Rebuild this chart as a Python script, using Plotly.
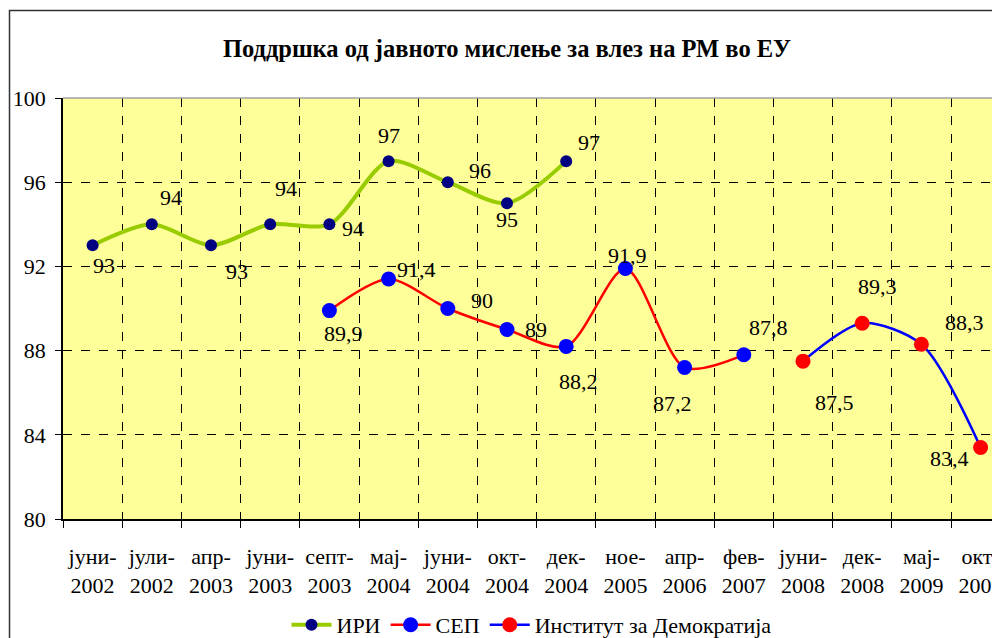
import plotly.graph_objects as go

months = ["јуни", "јули", "апр", "јуни", "септ", "мај", "јуни", "окт", "дек",
          "ное", "апр", "фев", "јуни", "дек", "мај", "окт"]
years = ["2002", "2002", "2003", "2003", "2003", "2004", "2004", "2004", "2004",
         "2005", "2006", "2007", "2008", "2008", "2009", "2009"]
categories = [f"{m}-<br>{y}" for m, y in zip(months, years)]

iri_x = categories[0:9]
iri_vals = [93, 94, 93, 94, 94, 97, 96, 95, 97]

sep_x = categories[4:12]
sep_vals = [89.9, 91.4, 90, 89, 88.2, 91.9, 87.2, 87.8]

inst_x = categories[12:16]
inst_vals = [87.5, 89.3, 88.3, 83.4]

# label offsets in pixels (dx right, dy down)
iri_off = [(11, 20), (19, -27), (26, 26), (16, -36), (24, 4), (0, -26), (32, -12), (0, 16), (23, -19)]
sep_off = [(14, 23), (28, -10), (34, -8), (29, 0), (12, 35), (2, -13), (-12, 36), (25, -27)]
inst_off = [(31, 41), (15, -37), (43, -22), (-31, 11)]

FONT = "Liberation Serif, Times New Roman, serif"

W, H = 992, 630
L, T, B = 55, 90, 119
PW, PH = W - L, H - T - B

fig = go.Figure()
fig.add_trace(go.Scatter(x=iri_x, y=iri_vals, name="ИРИ", mode="lines+markers",
                         line=dict(color="#99CC00", width=4, shape="spline", smoothing=0.8),
                         marker=dict(color="#000080", size=12)))
fig.add_trace(go.Scatter(x=sep_x, y=sep_vals, name="СЕП", mode="lines+markers",
                         line=dict(color="#FF0000", width=2.5, shape="spline", smoothing=0.8),
                         marker=dict(color="#0000FF", size=15)))
fig.add_trace(go.Scatter(x=inst_x, y=inst_vals, name="Институт за Демократија", mode="lines+markers",
                         line=dict(color="#0000FF", width=2.5, shape="spline", smoothing=0.8),
                         marker=dict(color="#FF0000", size=15)))

def fmt(v):
    return f"{v:g}".replace(".", ",")

annotations = []
for xs, vs, offs in [(iri_x, iri_vals, iri_off), (sep_x, sep_vals, sep_off), (inst_x, inst_vals, inst_off)]:
    for x, v, (dx, dy) in zip(xs, vs, offs):
        annotations.append(dict(x=x, y=v, text=fmt(v), showarrow=False,
                                xshift=dx, yshift=-dy,
                                font=dict(family=FONT, size=22, color="black")))

fig.update_layout(
    width=W, height=H,
    margin=dict(l=L, r=0, t=T, b=B, autoexpand=False),
    paper_bgcolor="white",
    plot_bgcolor="#FFFF99",
    font=dict(family=FONT, size=22, color="black"),
    title=dict(text="<b>Поддршка од јавното мислење за влез на РМ во ЕУ</b>",
               x=499 / W, xanchor="center", xref="container",
               y=1 - 40 / H, yanchor="middle", automargin=False,
               font=dict(family=FONT, size=24.5, color="black")),
    showlegend=True,
    legend=dict(orientation="h", x=0.5, xanchor="center", y=(PH - (617 - T)) / PH, yanchor="middle",
                font=dict(family=FONT, size=22), itemwidth=40, bgcolor="rgba(0,0,0,0)",
                tracegroupgap=0),
    annotations=annotations,
)

fig.update_xaxes(type="category", categoryorder="array", categoryarray=categories,
                 range=[-0.5, -0.5 + PW / 59.2], tickson="boundaries", automargin=False,
                 showgrid=True, gridcolor="black", griddash="dash", gridwidth=1,
                 ticks="outside", ticklen=7, tickcolor="black", ticklabelstandoff=17,
                 showline=True, linecolor="black", linewidth=1.5,
                 tickfont=dict(family=FONT, size=22), zeroline=False)
fig.update_yaxes(range=[80, 100], tickvals=[80, 84, 88, 92, 96, 100], automargin=False,
                 showgrid=True, gridcolor="black", griddash="dash", gridwidth=1,
                 ticks="outside", ticklen=6, tickcolor="black", ticklabelstandoff=5,
                 showline=True, linecolor="black", linewidth=1.5,
                 tickfont=dict(family=FONT, size=22), zeroline=False)

# top border of plot area (gray) and outer chart frame
fig.add_shape(type="line", xref="paper", yref="paper", x0=0, x1=1, y0=1, y1=1,
              line=dict(color="#A0A0A0", width=1.5))
fig.add_shape(type="rect", xref="paper", yref="paper",
              x0=(1.5 - L) / PW, x1=1.05, y0=(PH + T - (H + 20)) / PH, y1=(PH + T - 2.5) / PH,
              line=dict(color="#333333", width=1.5), fillcolor="rgba(0,0,0,0)", layer="below")

fig.write_html("out.html")
